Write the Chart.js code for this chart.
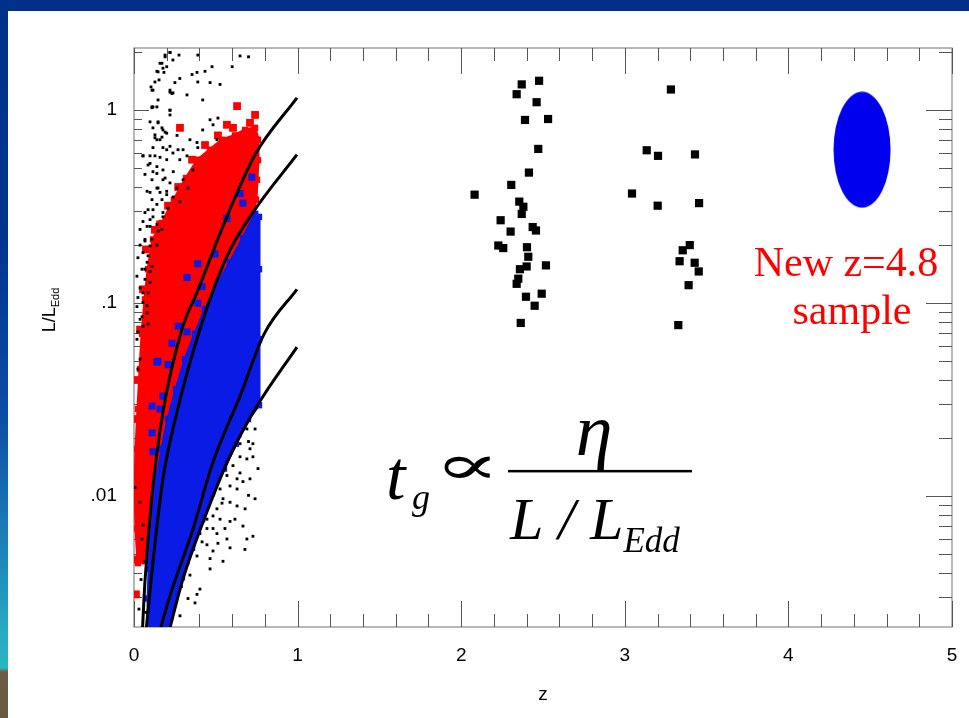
<!DOCTYPE html>
<html>
<head>
<meta charset="utf-8">
<script src="https://cdn.jsdelivr.net/npm/chart.js@4.4.1/dist/chart.umd.min.js"></script>
<style>
  html, body { margin: 0; padding: 0; }
  body { width: 969px; height: 718px; position: relative; overflow: hidden; background: #00308a; }
  #strip {
    position: absolute; left: 0; top: 0; width: 8px; height: 718px;
    background: linear-gradient(to bottom, #00308a 0px, #00368f 250px, #0b4fa4 420px, #1b80b8 540px,
      #27a9c2 630px, #2bb6c4 668px, #6e5b45 672px, #6a5842 718px);
  }
  #panel { position: absolute; left: 8px; top: 11px; right: 0; bottom: 0; background: #fff; }
  #chart { position: absolute; left: 0; top: 0; }
</style>
</head>
<body>
<div id="strip"></div>
<div id="panel"></div>
<canvas id="chart" width="969" height="718"></canvas>
<script>
// axis ticks
const xMajorTicks = [0, 1, 2, 3, 4, 5];
const yMajorTicks = [0.01, 0.1, 1];
const yTickLabels = [".01", ".1", "1"];

// model curves (z, L/LEdd)
const curve1Z = [0.05, 0.067, 0.110, 0.177, 0.293, 0.385, 0.568, 0.740, 0.996];
const curve1L = [0.0019, 0.00361, 0.01004, 0.0273, 0.0733, 0.1138, 0.281, 0.588, 1.159];
const curve2Z = [0.071, 0.116, 0.177, 0.263, 0.403, 0.568, 0.727, 0.996];
const curve2L = [0.0019, 0.00458, 0.0123, 0.0273, 0.0733, 0.1746, 0.295, 0.588];
const curve3Z = [0.150, 0.220, 0.361, 0.483, 0.648, 0.795, 0.996];
const curve3L = [0.0019, 0.00305, 0.00678, 0.01504, 0.0330, 0.0691, 0.118];
const curve4Z = [0.208, 0.300, 0.446, 0.587, 0.752, 0.996];
const curve4L = [0.0019, 0.00374, 0.0083, 0.01615, 0.0293, 0.0592];

// dense red cloud outline
const redZ = [0.171, 0.244, 0.318, 0.39, 0.465, 0.538, 0.617, 0.679, 0.74, 0.758, 0.758, 0.752, 0.746,
  0.709, 0.648, 0.575, 0.495, 0.434, 0.379, 0.318, 0.269, 0.232, 0.196, 0.177, 0.165, 0.147, 0.098,
  0.067, 0.024, 0.012, 0.006, 0.012, 0.024, 0.037, 0.049, 0.067, 0.086, 0.116, 0.171];
const redL = [0.26, 0.344, 0.445, 0.554, 0.624, 0.703, 0.74, 0.79, 0.81, 0.703, 0.55, 0.436, 0.344,
  0.247, 0.209, 0.155, 0.115, 0.085, 0.061, 0.043, 0.030, 0.021, 0.0146, 0.0102, 0.0072, 0.0056, 0.0046,
  0.0046, 0.0045, 0.0068, 0.0109, 0.0176, 0.0283, 0.0455, 0.0694, 0.1047, 0.150, 0.214, 0.26];

// dense blue cloud outline
const blueZ = [0.74, 0.764, 0.764, 0.764, 0.764, 0.697, 0.623, 0.550, 0.477, 0.416, 0.355, 0.293, 0.244,
  0.208, 0.086, 0.086, 0.092, 0.104, 0.122, 0.14, 0.171, 0.208, 0.257, 0.312, 0.373, 0.434,
  0.513, 0.587, 0.666, 0.74];
const blueL = [0.29, 0.28, 0.15, 0.065, 0.0296, 0.0251, 0.0187, 0.0139, 0.0105, 0.0076, 0.0054, 0.0038,
  0.0028, 0.0020, 0.0020, 0.00295, 0.0042, 0.0060, 0.0086, 0.0123, 0.0176, 0.0251, 0.0359,
  0.0513, 0.0694, 0.093, 0.126, 0.163, 0.217, 0.29];

// loose red squares
const redSqZ = [0.63, 0.74, 0.709, 0.605, 0.281, 0.68, 0.74, 0.208, 0.27, 0.355, 0.434, 0.513, 0.568,
  0.159, 0.128, 0.073, 0.055, 0.037, 0.018, 0.012, 0.024, 0.03, 0.018, 0.012, 0.006];
const redSqL = [1.05, 0.945, 0.86, 0.81, 0.81, 0.73, 0.70, 0.32, 0.40, 0.554, 0.66, 0.74, 0.84,
  0.256, 0.24, 0.19, 0.118, 0.073, 0.040, 0.0251, 0.0139, 0.0076, 0.0047, 0.0031, 0.0132];

// loose blue squares
const blueSqZ = [0.72, 0.648, 0.666, 0.568, 0.495, 0.39, 0.324, 0.416, 0.39, 0.27, 0.324, 0.232, 0.147,
  0.208, 0.177, 0.159, 0.11, 0.22, 0.14, 0.11, 0.116];
const blueSqL = [0.45, 0.37, 0.33, 0.275, 0.18, 0.16, 0.136, 0.122, 0.10, 0.076, 0.071, 0.062, 0.050,
  0.048, 0.033, 0.0283, 0.0213, 0.0251, 0.0495, 0.0293, 0.017];

// small black dots
const dotZ = [0.19, 0.22, 0.275, 0.39, 0.648, 0.70, 0.171, 0.20, 0.14, 0.183,
  0.153, 0.355, 0.385, 0.434, 0.477, 0.60, 0.25, 0.28, 0.39, 0.465,
  0.526, 0.104, 0.116, 0.22, 0.232, 0.324, 0.42, 0.147, 0.11, 0.14,
  0.22, 0.22, 0.465, 0.513, 0.098, 0.147, 0.171, 0.19, 0.263, 0.20,
  0.42, 0.483, 0.128, 0.159, 0.342, 0.385, 0.39, 0.507, 0.055, 0.128,
  0.177, 0.22, 0.269, 0.30, 0.324, 0.098, 0.20, 0.28, 0.24, 0.36,
  0.14, 0.19, 0.30, 0.263, 0.33, 0.147, 0.20, 0.098, 0.24, 0.171,
  0.28, 0.116, 0.208, 0.177, 0.098, 0.14, 0.08, 0.171, 0.11, 0.067,
  0.14, 0.086, 0.067, 0.098, 0.055, 0.08, 0.049, 0.086,
  0.22, 0.19, 0.238, 0.159, 0.177, 0.147, 0.128, 0.11, 0.22, 0.238,
  0.116, 0.11, 0.22, 0.147, 0.116, 0.177, 0.128, 0.171, 0.14, 0.116,
  0.055, 0.098, 0.20, 0.238, 0.159, 0.086, 0.14, 0.177, 0.116, 0.067,
  0.11, 0.177, 0.22, 0.14, 0.08, 0.159, 0.20, 0.11, 0.14, 0.086,
  0.067, 0.116, 0.177, 0.055, 0.098, 0.037, 0.147, 0.067, 0.037, 0.098,
  0.055, 0.024, 0.08, 0.11, 0.049, 0.018, 0.067, 0.098, 0.037, 0.086,
  0.024, 0.055, 0.018, 0.08, 0.037, 0.055, 0.024,
  0.018, 0.037, 0.024, 0.006, 0.037, 0.055, 0.049, 0.067, 0.043, 0.03, 0.073,
  0.587, 0.666, 0.69, 0.648, 0.70, 0.709, 0.74, 0.587, 0.556, 0.648,
  0.69, 0.605, 0.526, 0.568, 0.63, 0.587, 0.666, 0.526, 0.483, 0.544,
  0.587, 0.63, 0.507, 0.483, 0.446, 0.526, 0.587, 0.666, 0.446, 0.403,
  0.507, 0.568, 0.446, 0.483, 0.69, 0.727, 0.385, 0.465, 0.544, 0.342,
  0.385, 0.281, 0.33, 0.678, 0.63, 0.70, 0.727, 0.483, 0.416, 0.36,
  0.62, 0.56, 0.50, 0.44, 0.39, 0.33, 0.29, 0.25,
  0.648, 0.709, 0.74, 0.679, 0.617, 0.556, 0.513, 0.465, 0.403, 0.373,
  0.587, 0.648, 0.727, 0.758, 0.538];
const dotL = [1.93, 1.99, 1.93, 1.93, 1.91, 1.89, 1.75, 1.68, 1.59, 1.57,
  1.435, 1.53, 1.57, 1.59, 1.68, 1.68, 1.39, 1.46, 1.40, 1.39,
  1.36, 1.32, 1.27, 1.24, 1.22, 1.20, 1.13, 1.13, 1.04, 1.04,
  1.00, 0.945, 0.892, 0.91, 0.87, 0.86, 0.81, 0.77, 0.74, 0.76,
  0.79, 0.84, 0.72, 0.703, 0.703, 0.68, 0.64, 0.703, 0.58, 0.58,
  0.64, 0.65, 0.624, 0.624, 0.58, 0.53, 0.554, 0.554, 0.48, 0.49,
  0.47, 0.445, 0.436, 0.395, 0.395, 0.395, 0.38, 0.375, 0.355, 0.344,
  0.335, 0.305, 0.31, 0.28, 0.271, 0.256, 0.25, 0.241, 0.214, 0.21,
  0.20, 0.176, 0.15, 0.146, 0.113, 0.097, 0.085, 0.078,
  1.99, 1.89, 1.82, 1.75, 1.65, 1.58, 1.40, 1.27, 1.27, 1.23,
  1.04, 1.03, 1.00, 0.87, 0.81, 0.79, 0.745, 0.725, 0.703, 0.64,
  0.58, 0.58, 0.624, 0.60, 0.57, 0.52, 0.51, 0.49, 0.48, 0.465,
  0.436, 0.436, 0.42, 0.395, 0.38, 0.375, 0.365, 0.344, 0.325, 0.305,
  0.295, 0.28, 0.295, 0.265, 0.25, 0.241, 0.236, 0.214, 0.20, 0.198,
  0.183, 0.172, 0.163, 0.155, 0.150, 0.138, 0.133, 0.128, 0.12, 0.113,
  0.107, 0.101, 0.096, 0.089, 0.0825, 0.076, 0.071,
  0.065, 0.0513, 0.0455, 0.0111, 0.0093, 0.0071, 0.0060, 0.0046, 0.0037, 0.0026, 0.0025,
  0.0251, 0.0243, 0.0223, 0.0205, 0.0192, 0.0176, 0.0223, 0.023, 0.0223, 0.016,
  0.0156, 0.0144, 0.0139, 0.0128, 0.0123, 0.0113, 0.0119, 0.0109, 0.0101, 0.0097,
  0.0093, 0.0089, 0.0086, 0.0079, 0.0076, 0.0076, 0.0074, 0.0070, 0.0068, 0.0064,
  0.0064, 0.0060, 0.0056, 0.0052, 0.0060, 0.0062, 0.0049, 0.00475, 0.0046, 0.0039,
  0.0031, 0.0024, 0.00295, 0.0053, 0.0109, 0.0101, 0.016, 0.0068, 0.0058, 0.0053,
  0.019, 0.0145, 0.0112, 0.0085, 0.0066, 0.0045, 0.0034, 0.0027,
  0.0132, 0.0123, 0.0097, 0.0086, 0.0076, 0.0068, 0.0057, 0.0042, 0.0033, 0.0028,
  0.0054, 0.0187, 0.0187, 0.0139, 0.0092];

// high-z quasars (black squares)
const hzZ = [2.476, 2.370, 2.339, 2.461, 2.390, 2.531, 2.471, 2.414, 2.306, 2.082,
  2.355, 2.380, 2.370, 2.241, 2.302, 2.437, 2.457, 2.227, 2.257, 2.402,
  2.410, 2.359, 2.400, 2.518, 2.349, 2.339, 2.396, 2.492, 2.449, 2.364,
  3.282, 3.134, 3.203, 3.429, 3.044, 3.201, 3.454, 3.397, 3.354, 3.335, 3.427, 3.452, 3.390, 3.327];
const hzL = [1.42, 1.36, 1.21, 1.10, 0.89, 0.90, 0.63, 0.475, 0.41, 0.365,
  0.336, 0.316, 0.29, 0.269, 0.235, 0.248, 0.238, 0.199, 0.193, 0.195,
  0.174, 0.150, 0.155, 0.157, 0.134, 0.126, 0.108, 0.112, 0.097, 0.079,
  1.28, 0.62, 0.58, 0.59, 0.37, 0.32, 0.33, 0.20, 0.188, 0.165, 0.162, 0.146, 0.124, 0.077];

// new z=4.8 sample (drawn as an ellipse)
const newZ = [4.45];
const newL = [0.624];

const pairs = (zs, ls) => zs.map((z, i) => ({ x: z, y: ls[i] }));

function ellipseImage(w, h, color) {
    const c = document.createElement("canvas");
    c.width = w;
    c.height = h;
    const g = c.getContext("2d");
    g.fillStyle = color;
    g.beginPath();
    g.ellipse(w / 2, h / 2, w / 2 - 0.5, h / 2 - 0.5, 0, 0, Math.PI * 2);
    g.fill();
    return c;
}

const RED = "#ff0000";
const BLUE = "#0b1be6";

function curveSet(zs, ls) {
    return {
        data: pairs(zs, ls), showLine: true, borderColor: "#000", borderWidth: 3,
        pointRadius: 0, cubicInterpolationMode: "monotone", order: 0
    };
}

function squares(zs, ls, color, r, order) {
    return {
        data: pairs(zs, ls), showLine: false, pointStyle: "rect", pointRadius: r,
        backgroundColor: color, borderWidth: 0, pointBorderWidth: 0, order: order
    };
}

function cloud(zs, ls, color, order) {
    return {
        data: pairs(zs, ls), showLine: true, fill: "shape", backgroundColor: color,
        borderColor: color, borderWidth: 3, pointStyle: "rect", pointRadius: 4.5,
        pointBackgroundColor: color, pointBorderWidth: 0, tension: 0, order: order
    };
}

// inward ticks, plot box and text annotations
const frame = {
    id: "frame",
    beforeDatasetsDraw(chart) {
        const { ctx, chartArea: a, scales: { x, y } } = chart;
        ctx.save();
        ctx.strokeStyle = "#a0a0a0";
        ctx.lineWidth = 1.5;
        ctx.strokeRect(a.left, a.top, a.right - a.left, a.bottom - a.top);

        ctx.strokeStyle = "#555";
        ctx.lineWidth = 1;
        ctx.beginPath();
        for (let i = 0; i <= 25; i++) {
            const v = i / 5;
            const len = i % 5 === 0 ? 26 : 13;
            const px = Math.round(x.getPixelForValue(v)) + 0.5;
            ctx.moveTo(px, a.bottom);
            ctx.lineTo(px, a.bottom - len);
            ctx.moveTo(px, a.top);
            ctx.lineTo(px, a.top + len);
        }
        [0.001, 0.01, 0.1, 1].forEach(d => {
            for (let m = 1; m <= 9; m++) {
                const v = m * d;
                if (v < y.min || v > y.max) continue;
                const py = Math.round(y.getPixelForValue(v)) + 0.5;
                ctx.moveTo(a.left, py);
                ctx.lineTo(a.left + (m === 1 ? 15 : 8), py);
                ctx.moveTo(a.right, py);
                ctx.lineTo(a.right - (m === 1 ? 26 : 13), py);
            }
        });
        ctx.stroke();
        ctx.restore();
    },
    afterDraw(chart) {
        const { ctx, chartArea: a, scales: { x, y } } = chart;
        ctx.save();
        ctx.fillStyle = "#000";
        ctx.textBaseline = "alphabetic";

        // y axis title L/L_Edd
        ctx.save();
        ctx.translate(55, 310);
        ctx.rotate(-Math.PI / 2);
        ctx.font = '18px "Liberation Sans", Arial, sans-serif';
        const w1 = ctx.measureText("L/L").width;
        ctx.font = '11px "Liberation Sans", Arial, sans-serif';
        const w2 = ctx.measureText("Edd").width;
        const x0 = -(w1 + w2) / 2;
        ctx.font = '18px "Liberation Sans", Arial, sans-serif';
        ctx.fillText("L/L", x0, 0);
        ctx.font = '11px "Liberation Sans", Arial, sans-serif';
        ctx.fillText("Edd", x0 + w1, 4);
        ctx.restore();

        // x axis title
        ctx.font = '19px "Liberation Sans", Arial, sans-serif';
        ctx.textAlign = "center";
        ctx.fillText("z", (a.left + a.right) / 2, 700);

        // sample label
        ctx.fillStyle = RED;
        ctx.font = '42px "Liberation Serif", "Times New Roman", serif';
        const lx = x.getPixelForValue(4.352), ly = y.getPixelForValue(0.1377);
        ctx.fillText("New z=4.8", lx, ly);
        ctx.fillText("sample", lx + 6, ly + 48);

        // growth-time formula
        ctx.fillStyle = "#000";
        ctx.textAlign = "left";
        const bx = x.getPixelForValue(2.286), by = y.getPixelForValue(0.01352);
        const serif = '"Liberation Serif", "DejaVu Serif", serif';
        ctx.font = "italic 70px " + serif;
        ctx.fillText("t", bx - 122, by + 28);
        ctx.font = "italic 36px " + serif;
        ctx.fillText("g", bx - 96, by + 38);
        ctx.save();
        ctx.translate(bx - 74, by + 13);
        ctx.scale(1.75, 1);
        ctx.font = "56px " + serif;
        ctx.fillText("\u221D", 0, 0);
        ctx.restore();
        ctx.fillRect(bx, by - 1, 184, 2.5);
        ctx.font = "italic 74px " + serif;
        ctx.textAlign = "center";
        ctx.fillText("\u03B7", bx + 86, by - 16);
        ctx.textAlign = "left";
        ctx.font = "italic 60px " + serif;
        ctx.fillText("L / L", bx + 2, by + 68);
        const wl = ctx.measureText("L / L").width;
        ctx.font = "italic 35px " + serif;
        ctx.fillText("Edd", bx + 2 + wl, by + 81);
        ctx.restore();
    }
};

const ctx = document.querySelector("#chart").getContext("2d");

const chart = new Chart(ctx, {
    type: "scatter",
    data: {
        datasets: [
            curveSet(curve1Z, curve1L),
            curveSet(curve2Z, curve2L),
            curveSet(curve3Z, curve3L),
            curveSet(curve4Z, curve4L),
            squares(hzZ, hzL, "#000", 5.8, 0),
            {
                data: pairs(newZ, newL), showLine: false,
                pointStyle: ellipseImage(58, 117, "#0000ee"), pointRadius: 30, order: 0
            },
            squares(blueSqZ, blueSqL, BLUE, 5, 1),
            cloud(blueZ, blueL, BLUE, 2),
            squares(dotZ, dotL, "#000", 2, 3),
            squares(redSqZ, redSqL, RED, 5.5, 4),
            cloud(redZ, redL, RED, 5)
        ]
    },
    options: {
        responsive: false,
        animation: false,
        layout: { autoPadding: false, padding: { top: 48, right: 17, left: 0, bottom: 0 } },
        plugins: { legend: { display: false }, tooltip: { enabled: false } },
        scales: {
            x: {
                type: "linear", min: 0, max: 5,
                afterFit: s => { s.height = 91; s.paddingLeft = 0; s.paddingRight = 0; },
                afterBuildTicks: s => { s.ticks = xMajorTicks.map(v => ({ value: v })); },
                grid: { display: false, drawTicks: false },
                border: { display: false },
                ticks: {
                    autoSkip: false, padding: 17, color: "#000", maxRotation: 0,
                    font: { family: "Liberation Sans", size: 19 },
                    callback: (v, i) => String(xMajorTicks[i])
                }
            },
            y: {
                type: "logarithmic", min: 0.0021, max: 2.1,
                afterFit: s => { s.width = 134; s.paddingTop = 0; s.paddingBottom = 0; },
                afterBuildTicks: s => { s.ticks = yMajorTicks.map(v => ({ value: v })); },
                grid: { display: false, drawTicks: false },
                border: { display: false },
                ticks: {
                    autoSkip: false, padding: 17, color: "#000",
                    font: { family: "Liberation Sans", size: 19 },
                    callback: (v, i) => yTickLabels[i]
                }
            }
        }
    },
    plugins: [frame]
});
</script>
</body>
</html>
